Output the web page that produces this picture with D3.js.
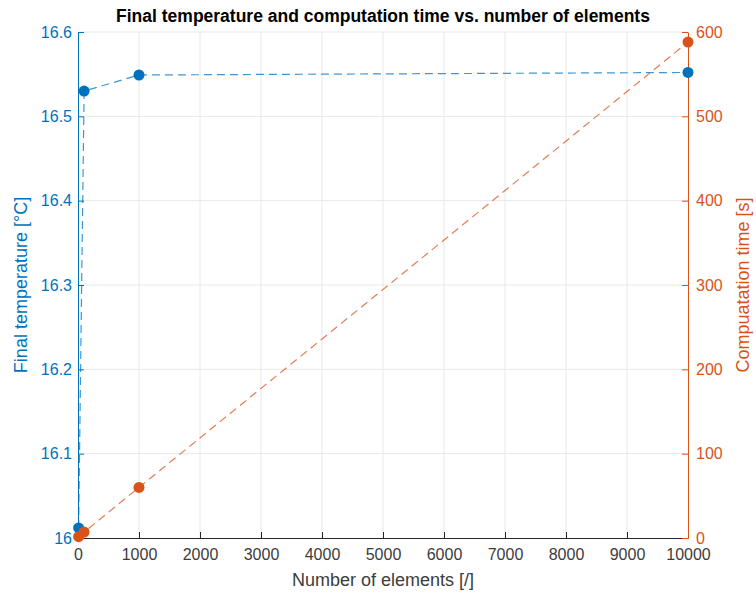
<!DOCTYPE html>
<html>
<head>
<meta charset="utf-8">
<script src="https://cdn.jsdelivr.net/npm/d3@7"></script>
<style>
body { margin: 0; background: #fff; }
text { font-family: "Liberation Sans", Arial, sans-serif; }
</style>
</head>
<body>
<svg id="vis"></svg>
<script>
const svg = d3.select("#vis").attr("width", 756).attr("height", 596);

const elements = [10, 100, 1000, 10000];
const finalTemps = [16.012, 16.530, 16.549, 16.552];
const compTimes = [1.5, 7, 60, 588];
const xTicks = [0, 1000, 2000, 3000, 4000, 5000, 6000, 7000, 8000, 9000, 10000];
const leftTicks = [16, 16.1, 16.2, 16.3, 16.4, 16.5, 16.6];
const rightTicks = [0, 100, 200, 300, 400, 500, 600];

const BLUE = "#0072BD";
const ORANGE = "#D95319";
const PLOT_LEFT = 78, PLOT_RIGHT = 688, PLOT_TOP = 32, PLOT_BOTTOM = 538;

let xscale = d3.scaleLinear().domain([0, 10000]).range([PLOT_LEFT, PLOT_RIGHT]);
let yLeft = d3.scaleLinear().domain([16, 16.6]).range([PLOT_BOTTOM, PLOT_TOP]);
let yRight = d3.scaleLinear().domain([0, 600]).range([PLOT_BOTTOM, PLOT_TOP]);

function main() {
    drawGrid();
    drawAxes();
    drawSeries(finalTemps, yLeft, BLUE);
    drawSeries(compTimes, yRight, ORANGE);
    drawLabels();
}

function drawGrid() {
    const g = svg.append("g").attr("stroke", "#e5e8ec").attr("stroke-width", 1);
    g.selectAll(".vgrid").data(xTicks.slice(1, -1)).join("line")
        .attr("x1", d => xscale(d)).attr("x2", d => xscale(d))
        .attr("y1", PLOT_TOP).attr("y2", PLOT_BOTTOM);
    g.selectAll(".hgrid").data(leftTicks.slice(1)).join("line")
        .attr("x1", PLOT_LEFT).attr("x2", PLOT_RIGHT)
        .attr("y1", d => yLeft(d)).attr("y2", d => yLeft(d));
}

function drawAxes() {
    const xAxis = svg.append("g")
        .attr("transform", `translate(0,${PLOT_BOTTOM})`)
        .call(d3.axisBottom(xscale).tickValues(xTicks).tickFormat(d3.format("d")).tickSizeInner(-6).tickSizeOuter(0).tickPadding(11));
    xAxis.select(".domain").attr("stroke", "#262626");
    xAxis.selectAll(".tick line").attr("stroke", "#262626");
    xAxis.selectAll("text").attr("fill", "#3c3c3c").style("font-size", "16px");

    const lAxis = svg.append("g")
        .attr("transform", `translate(${PLOT_LEFT},0)`)
        .call(d3.axisLeft(yLeft).tickValues(leftTicks).tickFormat(d => String(+d.toFixed(1))).tickSizeInner(-6).tickSizeOuter(0).tickPadding(6));
    lAxis.select(".domain").attr("stroke", BLUE);
    lAxis.selectAll(".tick line").attr("stroke", BLUE);
    lAxis.selectAll("text").attr("fill", BLUE).style("font-size", "16px");

    const rAxis = svg.append("g")
        .attr("transform", `translate(${PLOT_RIGHT},0)`)
        .call(d3.axisRight(yRight).tickValues(rightTicks).tickSizeInner(-6).tickSizeOuter(0).tickPadding(8));
    rAxis.select(".domain").attr("stroke", ORANGE);
    rAxis.selectAll(".tick line").attr("stroke", ORANGE);
    rAxis.selectAll("text").attr("fill", ORANGE).style("font-size", "16px");
}

function drawSeries(values, yscale, color) {
    const pts = elements.map((e, i) => ({x: e, y: values[i]}));
    const line = d3.line().x(d => xscale(d.x)).y(d => yscale(d.y));
    svg.append("path").datum(pts)
        .attr("d", line)
        .attr("fill", "none")
        .attr("stroke", color)
        .attr("stroke-opacity", 0.75)
        .attr("stroke-width", 1.2)
        .attr("stroke-dasharray", "8,5");
    svg.append("g").selectAll("circle").data(pts).join("circle")
        .attr("cx", d => xscale(d.x))
        .attr("cy", d => yscale(d.y))
        .attr("r", 5.5)
        .attr("fill", color);
}

function drawLabels() {
    svg.append("text")
        .attr("x", (PLOT_LEFT + PLOT_RIGHT) / 2).attr("y", 22)
        .attr("text-anchor", "middle")
        .style("font-size", "17.5px").style("font-weight", "bold")
        .attr("fill", "#000")
        .text("Final temperature and computation time vs. number of elements");
    svg.append("text")
        .attr("x", (PLOT_LEFT + PLOT_RIGHT) / 2).attr("y", 586)
        .attr("text-anchor", "middle")
        .style("font-size", "18px")
        .attr("fill", "#3c3c3c")
        .text("Number of elements [/]");
    svg.append("text")
        .attr("transform", `translate(27,${(PLOT_TOP + PLOT_BOTTOM) / 2}) rotate(-90)`)
        .attr("text-anchor", "middle")
        .style("font-size", "18px")
        .attr("fill", BLUE)
        .text("Final temperature [°C]");
    svg.append("text")
        .attr("transform", `translate(749,${(PLOT_TOP + PLOT_BOTTOM) / 2}) rotate(-90)`)
        .attr("text-anchor", "middle")
        .style("font-size", "18px")
        .attr("fill", ORANGE)
        .text("Compuatation time [s]");
}

main();
</script>
</body>
</html>
